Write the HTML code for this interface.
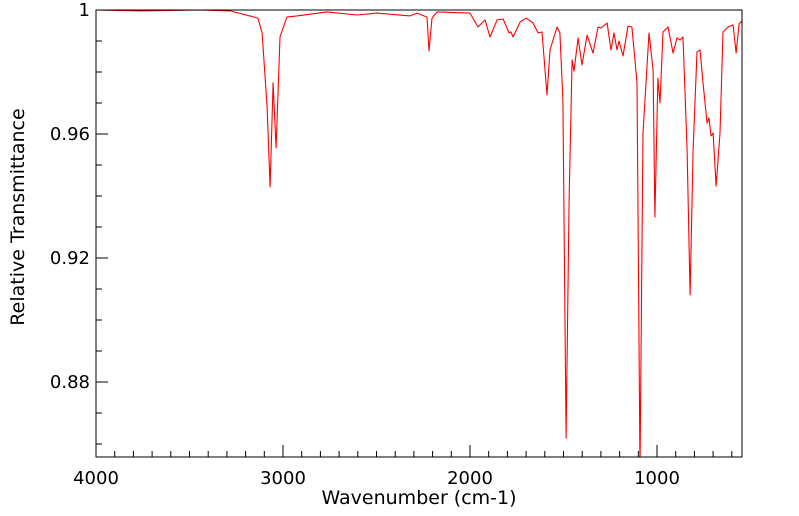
<!DOCTYPE html>
<html><head><meta charset="utf-8"><style>
html,body{margin:0;padding:0;background:#fff;}
svg{display:block;font-family:"DejaVu Sans","Liberation Sans",sans-serif;}
</style></head><body>
<svg id="chart" width="799" height="516" viewBox="0 0 799 516" xmlns="http://www.w3.org/2000/svg">
<defs><clipPath id="clip"><rect x="96" y="10" width="646" height="447"/></clipPath></defs>
<g id="ticks"></g>
<path id="line" fill="none" stroke="#ff0000" stroke-width="1.1" stroke-linejoin="round" clip-path="url(#clip)"/>
<rect x="96" y="10" width="646" height="447" fill="none" stroke="#000" stroke-width="1"/>
<g id="labels" font-size="18" fill="#000"></g>
<text x="419" y="504" font-size="19" text-anchor="middle">Wavenumber (cm-1)</text>
<text transform="translate(24,217) rotate(-90)" font-size="19" text-anchor="middle">Relative Transmittance</text>
</svg>
<script>
const wavenumbers = [4000,3765,3444,3283,3134,3112,3085,3069,3053,3037,3016,2979,2925,2765,2604,2497,2321,2283,2230,2219,2203,2176,2000,1957,1920,1893,1855,1823,1791,1781,1770,1732,1700,1663,1636,1615,1588,1572,1535,1519,1503,1486,1470,1454,1444,1422,1401,1374,1342,1315,1299,1267,1246,1230,1214,1203,1182,1155,1134,1107,1091,1075,1043,1021,1011,995,984,968,941,914,893,877,861,839,823,807,786,770,754,732,722,711,700,684,663,647,620,593,577,561,545];
const transmittance = [1.000,0.9997,1.000,0.9997,0.9974,0.9926,0.9687,0.9429,0.9765,0.9555,0.9913,0.9977,0.9981,0.9994,0.9984,0.9990,0.9981,0.9990,0.9977,0.9868,0.9974,0.9994,0.9990,0.9945,0.9968,0.9913,0.9968,0.9971,0.9926,0.9929,0.9913,0.9961,0.9974,0.9958,0.9926,0.9929,0.9726,0.9871,0.9945,0.9926,0.9710,0.8619,0.9387,0.9839,0.9803,0.9910,0.9823,0.9919,0.9861,0.9945,0.9942,0.9958,0.9871,0.9926,0.9871,0.9900,0.9852,0.9948,0.9945,0.9765,0.8520,0.9603,0.9926,0.9806,0.9332,0.9780,0.9700,0.9929,0.9945,0.9861,0.9910,0.9903,0.9913,0.9548,0.9081,0.9548,0.9865,0.9871,0.9765,0.9635,0.9652,0.9594,0.9603,0.9432,0.9603,0.9929,0.9945,0.9952,0.9861,0.9955,0.9965];
const xTickLabels = [4000,3000,2000,1000];
const yTickLabels = ["1","0.96","0.92","0.88"];
const yTickValues = [1,0.96,0.92,0.88];

const X0=96, X1=742, Y0=10, Y1=457;
const W_LEFT=4000, W_RIGHT=4000-(X1-X0)/0.187;
const T_TOP=1, T_BOT=1-(Y1-Y0)/3100;
function xs(w){return X0+(W_LEFT-w)/(W_LEFT-W_RIGHT)*(X1-X0);}
function ys(t){return Y0+(T_TOP-t)/(T_TOP-T_BOT)*(Y1-Y0);}

let d='';
wavenumbers.forEach((w,i)=>{d+=(i?'L':'M')+xs(w).toFixed(1)+','+ys(transmittance[i]).toFixed(1);});
document.getElementById('line').setAttribute('d',d);

const NS='http://www.w3.org/2000/svg';
const tg=document.getElementById('ticks');
function ln(x1,y1,x2,y2){const l=document.createElementNS(NS,'line');l.setAttribute('x1',x1);l.setAttribute('y1',y1);l.setAttribute('x2',x2);l.setAttribute('y2',y2);l.setAttribute('stroke','#000');l.setAttribute('stroke-width','1');


tg.appendChild(l);}
for(let w=4000;w>=W_RIGHT;w-=100){const x=xs(w);ln(x,Y1,x,Y1-(w%1000===0?12:6));}
for(let t=1;t>=T_BOT;t=Math.round((t-0.01)*1000)/1000){const y=ys(t);const major=Math.round(t*100)%4===0;ln(X0,y,X0+(major?12:6),y);}
const lg=document.getElementById('labels');
xTickLabels.forEach(v=>{const t=document.createElementNS(NS,'text');t.setAttribute('x',xs(v));t.setAttribute('y',484);t.setAttribute('text-anchor','middle');t.textContent=v;


lg.appendChild(t);});
yTickValues.forEach((v,i)=>{const t=document.createElementNS(NS,'text');t.setAttribute('x',90);t.setAttribute('y',ys(v)+6);t.setAttribute('text-anchor','end');t.textContent=yTickLabels[i];


lg.appendChild(t);});
</script>
</body></html>
